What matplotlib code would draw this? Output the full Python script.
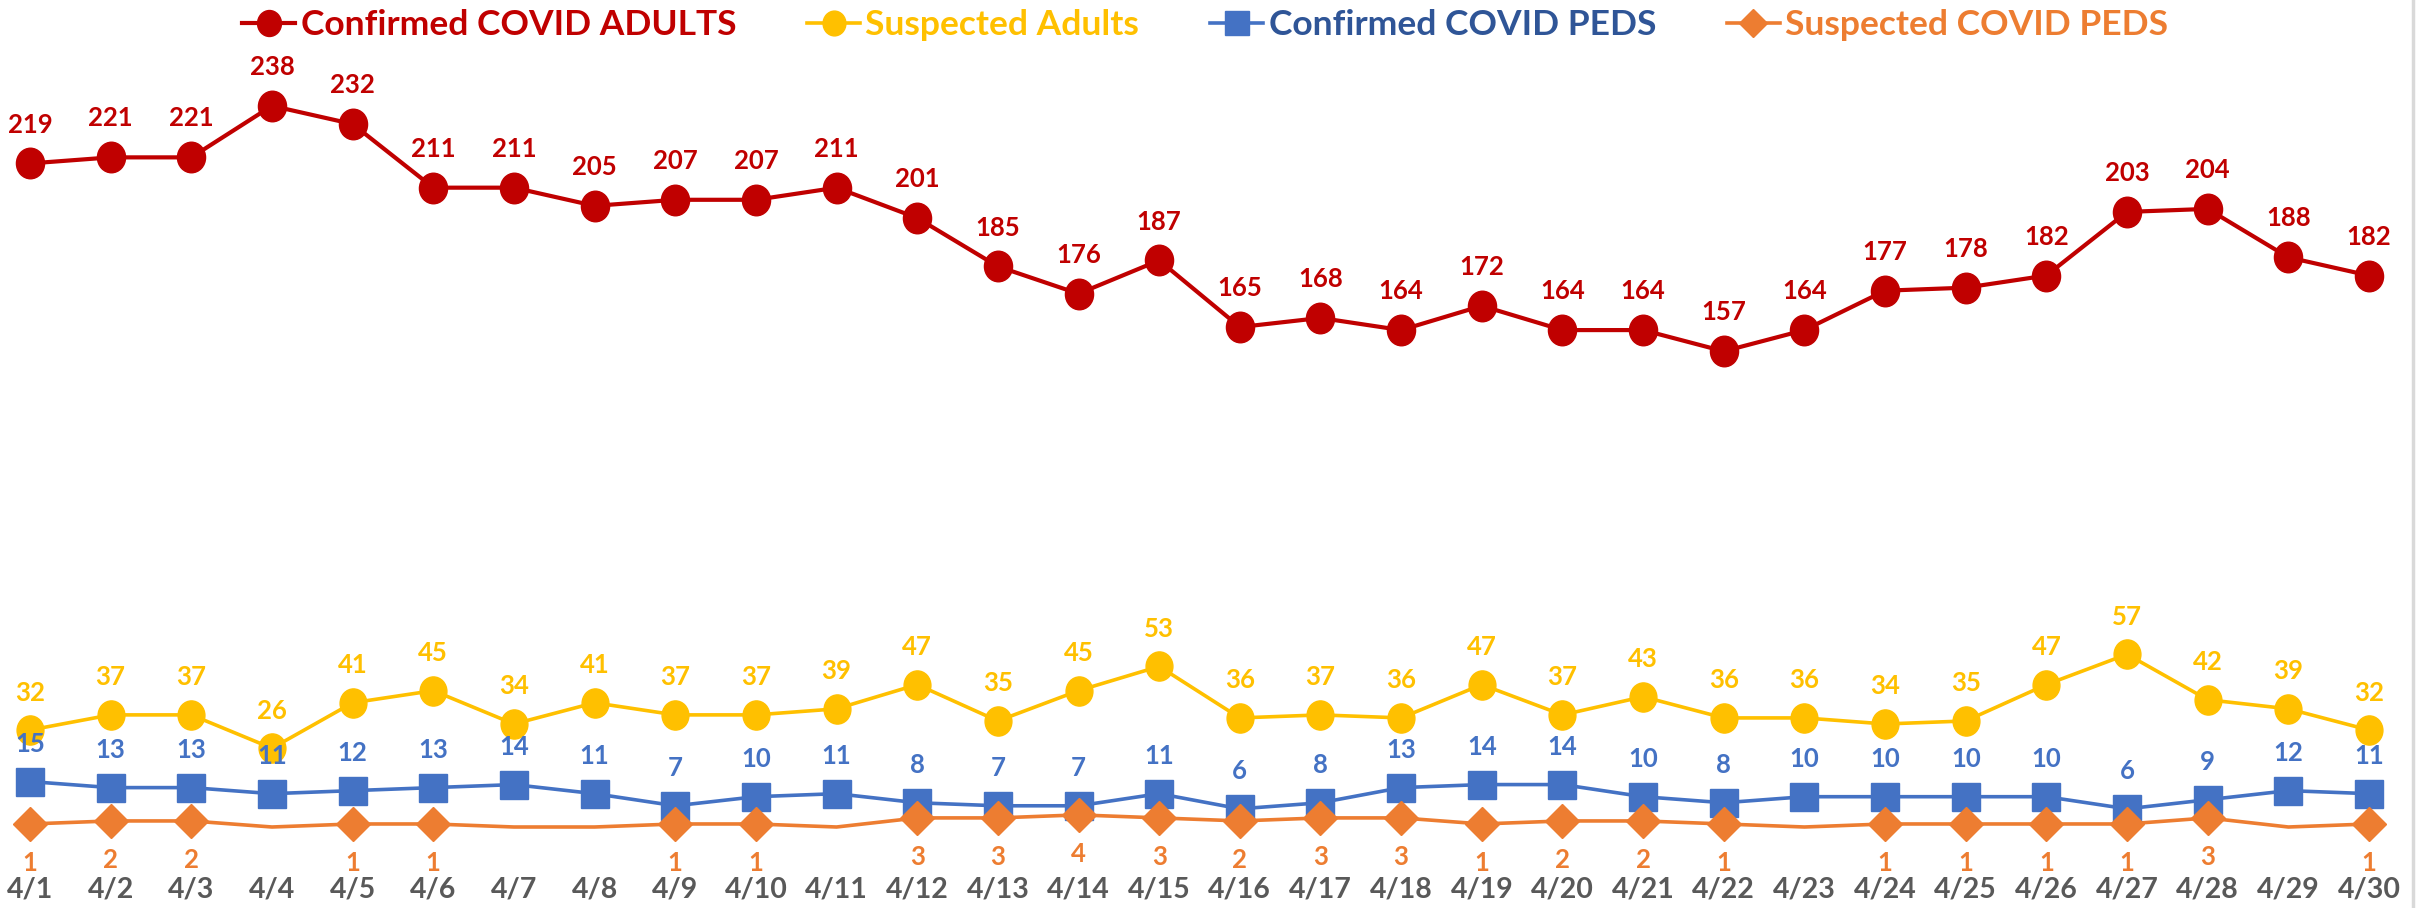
import numpy as np
import matplotlib.pyplot as plt
from matplotlib.path import Path
from matplotlib.transforms import Affine2D
from matplotlib.lines import Line2D

plt.rcParams['font.family'] = ['Lato', 'DejaVu Sans']

DATES = ["4/%d" % d for d in range(1, 31)]

CONF_ADULTS = [219, 221, 221, 238, 232, 211, 211, 205, 207, 207, 211, 201, 185, 176, 187,
               165, 168, 164, 172, 164, 164, 157, 164, 177, 178, 182, 203, 204, 188, 182]
SUSP_ADULTS = [32, 37, 37, 26, 41, 45, 34, 41, 37, 37, 39, 47, 35, 45, 53,
               36, 37, 36, 47, 37, 43, 36, 36, 34, 35, 47, 57, 42, 39, 32]
CONF_PEDS = [15, 13, 13, 11, 12, 13, 14, 11, 7, 10, 11, 8, 7, 7, 11,
             6, 8, 13, 14, 14, 10, 8, 10, 10, 10, 10, 6, 9, 12, 11]
SUSP_PEDS = [1, 2, 2, 0, 1, 1, 0, 0, 1, 1, 0, 3, 3, 4, 3,
             2, 3, 3, 1, 2, 2, 1, 0, 1, 1, 1, 1, 3, 0, 1]

RED = "#C00000"
GOLD = "#FFC000"
BLUE = "#4472C4"
ORANGE = "#ED7D31"
GRAY = "#595959"

W, H = 2425, 908
fig = plt.figure(figsize=(W / 100, H / 100), dpi=100)

# axes placement in pixels
ax_bottom_px = 48
ax_top_px = 60
ax = fig.add_axes([0, ax_bottom_px / H, 1, (H - ax_bottom_px - ax_top_px) / H])

x = np.arange(len(DATES))
px_per_x = (2369 - 30) / 29.0
ax.set_xlim(-30 / px_per_x, 29 + (W - 2369) / px_per_x)
px_per_y = 3.03
y0 = -(H - ax_bottom_px - 827) / px_per_y
ax.set_ylim(y0, y0 + (H - ax_bottom_px - ax_top_px) / px_per_y)

ellipse = Path.unit_circle().transformed(Affine2D().scale(0.92, 1.0))

series = [
    ("Confirmed COVID ADULTS", CONF_ADULTS, RED, ellipse, 22, 3.0, 28),
    ("Suspected Adults", SUSP_ADULTS, GOLD, ellipse, 21, 2.6, 27),
    ("Confirmed COVID PEDS", CONF_PEDS, BLUE, "s", 20, 2.6, 27),
    ("Suspected COVID PEDS", SUSP_PEDS, ORANGE, "D", 17, 2.6, -28),
]

handles = []
for name, vals, col, mk, ms, lw, off in series:
    vals = np.array(vals)
    ax.plot(x, vals, color=col, lw=lw, zorder=2)
    show = vals > 0 if name == "Suspected COVID PEDS" else np.ones(len(vals), bool)
    ax.plot(x[show], vals[show], ls="none", marker=mk, ms=ms, color=col,
            mec=col, zorder=3)
    for xi, v, s in zip(x, vals, show):
        if not s:
            continue
        ax.annotate(str(v), (xi, v), xytext=(0, off), textcoords="offset points",
                    ha="center", va="center", color=col, fontsize=18.5,
                    fontweight="bold")
    handles.append(Line2D([], [], color=col, lw=lw, marker=mk, ms=ms * 0.85,
                          mec=col, label=name))

ax.set_xticks(x)
ax.set_xticklabels(DATES, fontsize=20.5, fontweight="bold", color=GRAY)
ax.tick_params(axis="x", length=0, pad=12)
ax.set_yticks([])
for sp in ax.spines.values():
    sp.set_visible(False)

leg = fig.legend(handles=handles, loc="upper center", bbox_to_anchor=(0.497, 1.025),
                 ncol=4, frameon=False, fontsize=25.5, handlelength=1.5,
                 handletextpad=0.15, columnspacing=2.0)
text_cols = [RED, GOLD, "#2F5597", ORANGE]
for t, c in zip(leg.get_texts(), text_cols):
    t.set_color(c)
    t.set_fontweight("bold")

fig.add_artist(Line2D([2413 / W, 2413 / W], [0, 1], color="#D9D9D9", lw=2.5))

fig.savefig("out.png", dpi=100)
